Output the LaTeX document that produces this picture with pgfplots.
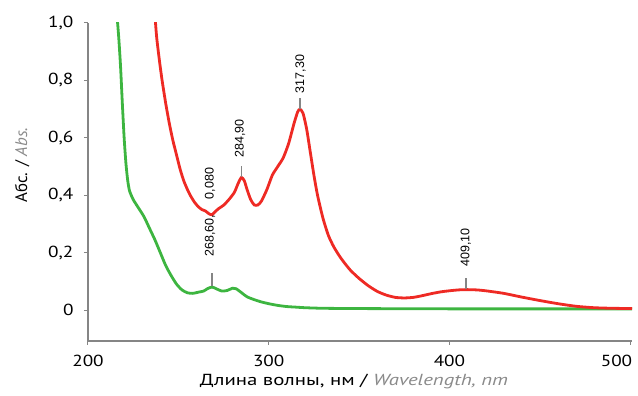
\documentclass[border=0pt]{standalone}
\usepackage{pgfplots}
\pgfplotsset{compat=1.18}
\usepackage{fontspec}
\setmainfont{PT Sans}[FakeStretch=1.2]
\newfontfamily\xlabfont{PT Sans}[FakeStretch=1.3]
\newfontfamily\ylabfont{PT Sans}
\newfontfamily\annfont{Liberation Sans}
\definecolor{axgray}{HTML}{858585}
\definecolor{labgray}{HTML}{8A8A8A}
\definecolor{redc}{HTML}{EE2A24}
\definecolor{greenc}{HTML}{3DB540}
\begin{document}
\begin{tikzpicture}
\useasboundingbox (-88pt,-55pt) rectangle (550pt,341pt);
\begin{axis}[
  at={(0,0)}, anchor=south west,
  scale only axis, width=544pt, height=318pt,
  xmin=200, xmax=501, ymin=-0.108, ymax=1.0,
  axis x line*=bottom, axis y line*=left,
  axis line style={axgray, line width=1.2pt, -},
  xtick={200,300,400,500},
  xticklabels={200,300,400,\makebox[0pt][r]{500\hspace{-2pt}}},
  ytick={0,0.2,0.4,0.6,0.8,1.0},
  yticklabels={0,{0,2},{0,4},{0,6},{0,8},{1,0}},
  tick style={axgray, line width=1pt},
  major tick length=4pt,
  tick align=outside,
  /pgf/number format/assume math mode=true,
  ticklabel style={font=\fontsize{16}{18}\selectfont},
  xticklabel style={yshift=-7pt},
  yticklabel style={xshift=-7pt},
  xlabel={Длина волны, нм / {\color{labgray}\itshape Wavelength, nm}},
  ylabel={Абс. / {\color{labgray}\itshape Abs.}},
  xlabel style={font=\xlabfont\fontsize{16}{18}\selectfont, at={(axis description cs:0.489,-0.1415)}, anchor=base},
  ylabel style={font=\ylabfont\fontsize{16.8}{18}\selectfont, at={(axis description cs:-0.121,0.553)}, anchor=center},
  clip=true,
]
\addplot[greenc, line width=2.8pt, smooth, tension=0.4] coordinates {
(216,1.03) (217,0.95) (218,0.85) (219,0.72) (220,0.60) (221,0.51) (222,0.45)
(223,0.415) (225,0.385) (228,0.355) (231,0.325) (234,0.285) (237,0.245)
(240,0.20) (243,0.155) (246,0.12) (249,0.09) (252,0.07) (255,0.06)
(258,0.058) (261,0.062) (264,0.066) (266,0.074) (268.6,0.08) (271,0.074)
(274,0.066) (277,0.068) (280,0.076) (282,0.074) (285,0.06) (288,0.046)
(292,0.036) (296,0.028) (300,0.022) (305,0.016) (310,0.012) (315,0.01)
(320,0.008) (330,0.006) (350,0.005) (400,0.004) (450,0.004) (501,0.004)
};
\addplot[redc, line width=2.8pt, smooth, tension=0.4] coordinates {
(237,1.03) (238,0.95) (239.5,0.87) (241,0.80) (243,0.72) (245,0.65)
(247,0.59) (249,0.54) (251,0.49) (253,0.45) (255,0.42) (257,0.395)
(259,0.375) (261,0.36) (263,0.35) (265,0.345) (267,0.335) (268.6,0.332)
(270,0.34) (272,0.352) (275,0.365) (278,0.385) (281,0.41) (283,0.44)
(284.9,0.462) (286.5,0.45) (288,0.42) (290,0.385) (292,0.366) (294,0.366)
(296,0.38) (299,0.42) (302,0.47) (305,0.50) (308,0.53) (311,0.58)
(314,0.65) (316,0.69) (317.3,0.70) (319,0.685) (321,0.63) (323,0.55)
(325,0.47) (327,0.40) (330,0.32) (333,0.26) (336,0.22) (340,0.18)
(345,0.14) (350,0.11) (355,0.085) (360,0.065) (365,0.052) (370,0.044)
(375,0.042) (380,0.044) (385,0.05) (390,0.057) (395,0.063) (400,0.067)
(405,0.07) (409.1,0.071) (415,0.07) (420,0.067) (430,0.058) (440,0.045)
(450,0.033) (460,0.022) (470,0.013) (480,0.008) (490,0.006) (501,0.005)
};
\begin{scope}[every node/.style={font=\annfont\fontsize{12.5}{13}\selectfont, rotate=90, anchor=west, inner sep=0pt}]
\draw[axgray, line width=1.6pt] (axis cs:268.6,0.083) -- (axis cs:268.6,0.13);
\node at (axis cs:267.5,0.185) {268,60,\hspace{16pt}0,080};
\draw[axgray, line width=1.6pt] (axis cs:284.9,0.465) -- (axis cs:284.9,0.50);
\node at (axis cs:284.2,0.53) {284,90};
\draw[axgray, line width=1.6pt] (axis cs:317.3,0.70) -- (axis cs:317.3,0.74);
\node at (axis cs:317.6,0.755) {317,30};
\draw[axgray, line width=1.6pt] (axis cs:409.1,0.072) -- (axis cs:409.1,0.112);
\node at (axis cs:409.1,0.15) {409,10};
\end{scope}
\end{axis}
\end{tikzpicture}
\end{document}
